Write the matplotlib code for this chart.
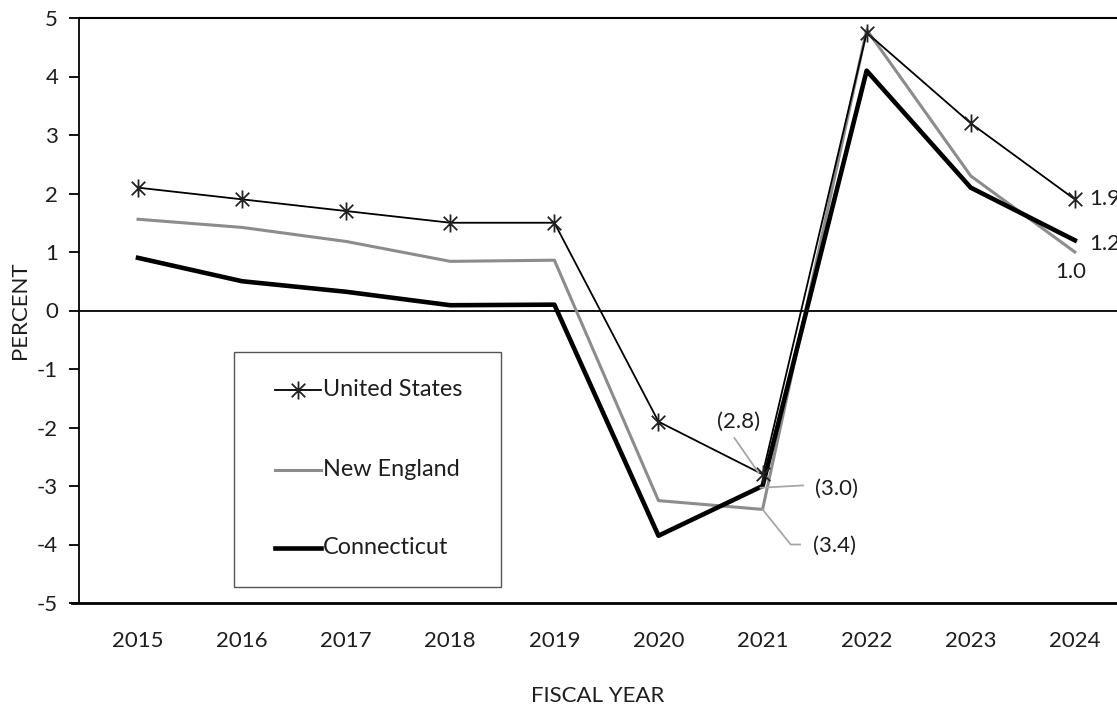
import matplotlib
matplotlib.use("Agg")
import matplotlib.pyplot as plt
from matplotlib.path import Path
from matplotlib.lines import Line2D
from matplotlib.patches import Rectangle

plt.rcParams['font.family'] = ['Lato', 'DejaVu Sans']

years = ['2015', '2016', '2017', '2018', '2019', '2020', '2021', '2022', '2023', '2024']
united_states = [2.1, 1.9, 1.7, 1.5, 1.5, -1.9, -2.8, 4.75, 3.2, 1.9]
new_england = [1.56, 1.42, 1.18, 0.84, 0.86, -3.25, -3.4, 4.8, 2.3, 1.0]
connecticut = [0.9, 0.5, 0.32, 0.09, 0.1, -3.85, -3.0, 4.1, 2.1, 1.2]
y_ticks = [-5, -4, -3, -2, -1, 0, 1, 2, 3, 4, 5]
series_names = ['United States', 'New England', 'Connecticut']

FS = 16
TXT = '#1e1e1e'
GRAY = '#8c8c8c'

# asterisk marker: vertical bar plus an X
ast = Path([(0, -1), (0, 1), (-0.75, -0.75), (0.75, 0.75), (-0.75, 0.75), (0.75, -0.75)],
           [Path.MOVETO, Path.LINETO, Path.MOVETO, Path.LINETO, Path.MOVETO, Path.LINETO])

W, H = 1117, 705
fig = plt.figure(figsize=(W / 100, H / 100), dpi=100)
ax = fig.add_axes([79 / W, 102 / H, 1 - 79 / W, 585 / H])

x = list(range(len(years)))
styles = [
    dict(color='black', lw=1.3, marker=ast, markersize=13, markeredgewidth=1.3,
         markerfacecolor='none', markeredgecolor='#222222', zorder=5),
    dict(color=GRAY, lw=2.2, zorder=3),
    dict(color='black', lw=3.3, zorder=4),
]
for vals, st in zip([united_states, new_england, connecticut], styles):
    ax.plot(x, vals, **st)

ax.axhline(0, color='black', lw=1.3, zorder=2)

ax.set_xlim(-0.567, 9.405)
ax.set_ylim(-5, 5)
ax.set_xticks(x)
ax.set_xticklabels(years)
ax.set_yticks(y_ticks)
ax.set_yticklabels([str(v) for v in y_ticks])
ax.tick_params(axis='x', length=0, pad=20, labelsize=FS, labelcolor=TXT)
ax.tick_params(axis='y', length=7, width=1.3, direction='out', pad=8, labelsize=FS, labelcolor=TXT)
ax.spines['right'].set_visible(False)
ax.spines['top'].set_linewidth(1.5)
ax.spines['left'].set_linewidth(1.3)
ax.spines['bottom'].set_linewidth(2.0)
ax.spines['bottom'].set_bounds(-0.635, 9.405)

ax.set_ylabel('PERCENT', fontsize=FS, labelpad=5, color=TXT)
ax.set_xlabel('FISCAL YEAR', fontsize=FS, labelpad=25, color=TXT)

# end-of-series value labels
lab_kw = dict(fontsize=FS, color=TXT, va='center')
ax.text(9 + 0.14, united_states[9], f'{united_states[9]:.1f}', ha='left', **lab_kw)
ax.text(9 + 0.14, connecticut[9] - 0.07, f'{connecticut[9]:.1f}', ha='left', **lab_kw)
ax.text(9 - 0.04, new_england[9] - 0.35, f'{new_england[9]:.1f}', ha='center', **lab_kw)

# 2021 callouts with leader lines
lead = dict(color='#a6a6a6', lw=1.3, zorder=6)
ax.text(5.77, united_states[6] + 0.9, f'({abs(united_states[6]):.1f})', ha='center', **lab_kw)
ax.plot([5.73, 5.96], [united_states[6] + 0.62, united_states[6] + 0.03], **lead)
ax.text(6.5, connecticut[6] - 0.05, f'({abs(connecticut[6]):.1f})', ha='left', **lab_kw)
ax.plot([5.98, 6.39], [connecticut[6] - 0.03, connecticut[6] + 0.01], **lead)
ax.text(6.48, new_england[6] - 0.63, f'({abs(new_england[6]):.1f})', ha='left', **lab_kw)
ax.plot([6.0, 6.27, 6.36], [new_england[6], new_england[6] - 0.6, new_england[6] - 0.6], **lead)

# legend box with its sample lines
def fx(px):
    return (px - 79) / (W - 79)

def fy(py):
    return (603 - py) / 585

ax.add_patch(Rectangle((fx(234), fy(587)), fx(501) - fx(234), fy(352) - fy(587),
                       transform=ax.transAxes, facecolor='white', edgecolor='#555555',
                       lw=1.0, zorder=7))
for name, st, py in zip(series_names, styles, [390, 470, 548]):
    kw = {k: v for k, v in st.items() if k != 'zorder'}
    ax.add_line(Line2D([fx(275), fx(321)], [fy(py), fy(py)], transform=ax.transAxes,
                       markevery=[], zorder=8, **kw))
    if 'marker' in st:
        ax.add_line(Line2D([fx(298)], [fy(py)], transform=ax.transAxes, zorder=8,
                           linestyle='none', marker=st['marker'], markersize=st['markersize'],
                           markeredgewidth=st['markeredgewidth'],
                           markeredgecolor=st['markeredgecolor'], markerfacecolor='none'))
    ax.text(fx(323), fy(py), name, transform=ax.transAxes, ha='left', va='center',
            fontsize=FS + 0.8, color=TXT, zorder=8)

fig.savefig('out.png', dpi=100, facecolor='white')
